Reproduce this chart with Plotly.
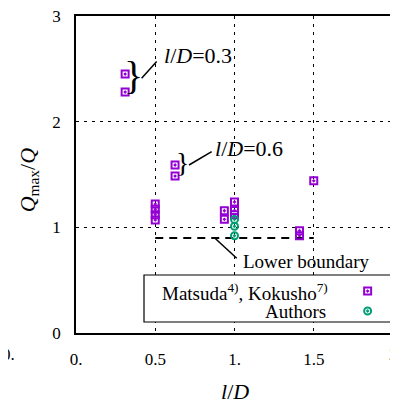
import plotly.graph_objects as go

# ---- data ----
matsuda_x = [0.31, 0.31, 0.625, 0.625, 0.5, 0.5, 0.5, 0.5, 0.936, 0.936, 1.0, 1.0, 1.0, 1.41, 1.41, 1.5]
matsuda_y = [2.45, 2.28, 1.59, 1.485, 1.22, 1.17, 1.12, 1.07, 1.157, 1.076, 1.24, 1.16, 1.12, 0.968, 0.92, 1.44]
authors_x = [1.0, 1.0, 1.0]
authors_y = [1.075, 1.01, 0.92]
boundary_x = [0.5, 1.5]
boundary_y = [0.9, 0.9]
x_tickvals = [0, 0.5, 1, 1.5]
x_ticktext = ["0.", "0.5", "1.", "1.5"]
x_last_tick = 2
x_last_text = "2"
y_tickvals = [0, 1, 2, 3]
y_ticktext = ["0", "1", "2", "3"]

PURPLE = "#9400d3"
GREEN = "#009e73"
FONT = "Liberation Serif"

fig = go.Figure()

fig.add_trace(go.Scatter(
    x=boundary_x, y=boundary_y, mode="lines",
    line=dict(color="black", width=2, dash="8px,6px"),
    showlegend=False, hoverinfo="skip"))

fig.add_trace(go.Scatter(
    x=matsuda_x, y=matsuda_y, mode="markers",
    marker=dict(symbol="square-open-dot", size=7, color=PURPLE, line=dict(width=2, color=PURPLE)),
    showlegend=False))

fig.add_trace(go.Scatter(
    x=authors_x, y=authors_y, mode="markers",
    marker=dict(symbol="circle-open-dot", size=7, color=GREEN, line=dict(width=2, color=GREEN)),
    showlegend=False))

# legend keys (layout)
fig.add_trace(go.Scatter(
    x=[1.84], y=[0.397], mode="markers",
    marker=dict(symbol="square-open-dot", size=7, color=PURPLE, line=dict(width=2, color=PURPLE)),
    showlegend=False, hoverinfo="skip"))
fig.add_trace(go.Scatter(
    x=[1.84], y=[0.208], mode="markers",
    marker=dict(symbol="circle-open-dot", size=7, color=GREEN, line=dict(width=2, color=GREEN)),
    showlegend=False, hoverinfo="skip"))

shapes = [
    dict(type="rect", xref="x", yref="y", x0=0.429, x1=1.986, y0=0.104, y1=0.549,
         line=dict(color="black", width=1.2), fillcolor="white", layer="between"),
    dict(type="line", xref="x", yref="y", x0=0.414, y0=2.41, x1=0.509, y1=2.57,
         line=dict(color="black", width=1.5)),
    dict(type="line", xref="x", yref="y", x0=0.713, y0=1.59, x1=0.856, y1=1.716,
         line=dict(color="black", width=1.5)),
    dict(type="line", xref="x", yref="y", x0=0.877, y0=0.896, x1=1.014, y1=0.707,
         line=dict(color="black", width=1.5)),
]

anns = [
    dict(text="}", x=0.36, y=2.44, xref="x", yref="y", showarrow=False,
         font=dict(family=FONT, size=40, color="black"), xanchor="center", yanchor="middle"),
    dict(text="}", x=0.672, y=1.61, xref="x", yref="y", showarrow=False,
         font=dict(family=FONT, size=28, color="black"), xanchor="center", yanchor="middle"),
    dict(text="<i>l</i>/<i>D</i>=0.3", x=0.54, y=2.63, xref="x", yref="y", showarrow=False,
         font=dict(family=FONT, size=22, color="black"), xanchor="left", yanchor="middle"),
    dict(text="<i>l</i>/<i>D</i>=0.6", x=0.862, y=1.75, xref="x", yref="y", showarrow=False,
         font=dict(family=FONT, size=22, color="black"), xanchor="left", yanchor="middle"),
    dict(text="Lower boundary", x=1.04, y=0.68, xref="x", yref="y", showarrow=False,
         font=dict(family=FONT, size=19, color="black"), xanchor="left", yanchor="middle"),
    dict(text="Matsuda<sup>4)</sup>, Kokusho<sup>7)</sup>", x=1.603, y=0.39, xref="x", yref="y",
         showarrow=False, font=dict(family=FONT, size=19, color="black"),
         xanchor="right", yanchor="middle"),
    dict(text="Authors", x=1.59, y=0.205, xref="x", yref="y", showarrow=False,
         font=dict(family=FONT, size=19, color="black"), xanchor="right", yanchor="middle"),
    dict(text="<i>Q</i><sub>max</sub>/<i>Q</i>", x=-0.15, y=0.483, xref="paper", yref="paper",
         showarrow=False, textangle=-90, font=dict(family=FONT, size=22, color="black"),
         xanchor="center", yanchor="middle"),
    dict(text="<i>l</i>/<i>D</i>", x=0.5, y=-0.185, xref="paper", yref="paper",
         showarrow=False, font=dict(family=FONT, size=22, color="black"),
         xanchor="center", yanchor="middle"),
    dict(text="0.", x=-68 / 317, y=-0.069, xref="paper", yref="paper", showarrow=False,
         font=dict(family=FONT, size=17, color="black"), xanchor="center", yanchor="middle"),
    # last x tick label at the right edge (partly cut, as in the reference)
    dict(text=x_last_text, x=x_last_tick, y=-0.069, xref="x", yref="paper", showarrow=False,
         font=dict(family=FONT, size=17, color="black"), xanchor="center", yanchor="middle"),
]

# page has an 8px body margin, so the figure is 8px smaller and margins shifted
fig.update_layout(
    width=390, height=398,
    margin=dict(l=68, r=5, t=8, b=73, autoexpand=False),
    paper_bgcolor="white", plot_bgcolor="white",
    shapes=shapes, annotations=anns,
    font=dict(family=FONT, size=17, color="black"),
    xaxis=dict(range=[0, 2], tickvals=x_tickvals, ticktext=x_ticktext,
               showgrid=True, gridcolor="black", gridwidth=1, griddash="3px,5px",
               showline=True, linecolor="black", linewidth=1.5, mirror=True,
               ticks="", zeroline=False, ticklabelstandoff=10, automargin=False,
               ticklabeloverflow="allow",
               tickfont=dict(family=FONT, size=17, color="black")),
    yaxis=dict(range=[0, 3], tickvals=y_tickvals, ticktext=y_ticktext,
               showgrid=True, gridcolor="black", gridwidth=1, griddash="3px,5px",
               showline=True, linecolor="black", linewidth=1.5, mirror=True,
               ticks="", zeroline=False, ticklabelstandoff=10, automargin=False,
               ticklabeloverflow="allow",
               tickfont=dict(family=FONT, size=17, color="black")),
)

fig.write_html("out.html")
